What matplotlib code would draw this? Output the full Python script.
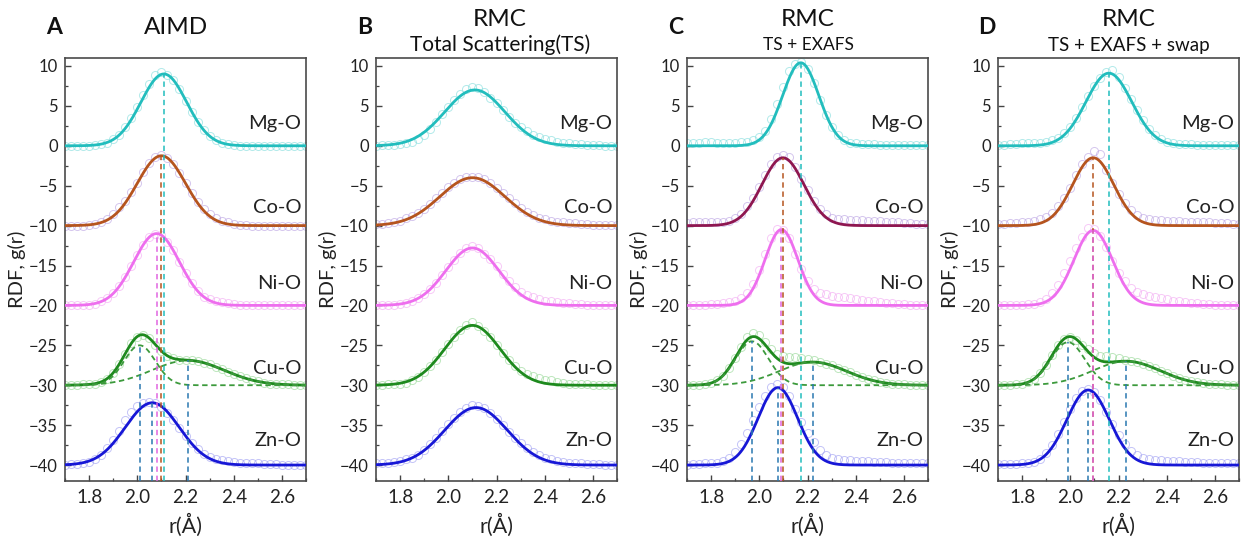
import numpy as np
import matplotlib.pyplot as plt
from matplotlib.ticker import MultipleLocator
from matplotlib.transforms import blended_transform_factory

plt.rcParams['font.family'] = ['Lato', 'DejaVu Sans']

# r grid (Å) of the sampled g(r) points
r_points = np.linspace(1.70, 2.70, 41)

pairs = ['Mg-O', 'Co-O', 'Ni-O', 'Cu-O', 'Zn-O']
offsets = [0, -10, -20, -30, -40]

# g(r) points above each baseline, one list per pair, per panel
gr_aimd = {
    'Mg-O': [0.0, 0.0, 0.0, 0.0, 0.0, 0.1, 0.2, 0.4, 0.8, 1.4, 2.3, 3.5, 4.9, 6.4, 7.8, 8.9, 9.3, 8.9, 8.2, 7.1,
             5.6, 4.2, 3.0, 2.0, 1.2, 0.7, 0.4, 0.2, 0.1, 0.0, 0.0, 0.0, 0.0, 0.0, 0.0, 0.0, 0.0, 0.0, 0.0, 0.0, 0.0],
    'Co-O': [0.0, 0.0, 0.0, 0.0, 0.1, 0.2, 0.4, 0.8, 1.5, 2.3, 3.1, 4.2, 5.4, 6.7, 7.8, 8.6, 8.8, 8.5, 7.7, 6.6,
             5.3, 4.1, 3.0, 2.1, 1.4, 0.9, 0.6, 0.4, 0.2, 0.1, 0.1, 0.0, 0.0, 0.0, 0.0, 0.0, 0.0, 0.0, 0.0, 0.0, 0.0],
    'Ni-O': [0.0, 0.0, 0.0, 0.0, 0.1, 0.2, 0.5, 0.9, 1.5, 2.4, 3.5, 4.9, 6.3, 7.6, 8.6, 9.0, 8.8, 8.0, 6.9, 5.5,
             4.1, 2.8, 1.8, 1.1, 0.8, 0.5, 0.4, 0.3, 0.2, 0.1, 0.0, 0.0, 0.0, 0.0, 0.0, 0.0, 0.0, 0.0, 0.0, 0.0, 0.0],
    'Cu-O': [0.0, 0.0, 0.0, 0.1, 0.1, 0.2, 0.4, 0.8, 1.5, 2.6, 3.9, 5.3, 6.1, 6.3, 5.9, 5.1, 4.3, 3.7, 3.4, 3.2,
             3.2, 3.1, 3.0, 2.8, 2.6, 2.3, 2.0, 1.7, 1.4, 1.1, 0.9, 0.7, 0.5, 0.3, 0.2, 0.2, 0.1, 0.1, 0.0, 0.0, 0.0],
    'Zn-O': [0.0, 0.1, 0.1, 0.2, 0.4, 0.8, 1.3, 2.1, 3.1, 4.3, 5.6, 6.7, 7.4, 7.8, 7.9, 7.8, 7.3, 6.5, 5.6, 4.6,
             3.6, 2.7, 2.0, 1.4, 1.0, 0.8, 0.6, 0.5, 0.4, 0.3, 0.3, 0.2, 0.2, 0.1, 0.1, 0.1, 0.0, 0.0, 0.0, 0.0, 0.0],
}
gr_ts = {
    'Mg-O': [0.0, 0.1, 0.1, 0.1, 0.2, 0.3, 0.5, 0.8, 1.3, 2.1, 3.0, 4.0, 4.9, 5.8, 6.5, 7.1, 7.4, 7.2, 6.7, 6.0,
             5.3, 4.5, 3.6, 2.9, 2.3, 1.8, 1.4, 1.1, 0.9, 0.7, 0.5, 0.4, 0.3, 0.2, 0.2, 0.1, 0.1, 0.1, 0.0, 0.0, 0.0],
    'Co-O': [0.2, 0.2, 0.3, 0.4, 0.6, 0.9, 1.2, 1.6, 2.1, 2.7, 3.4, 4.1, 4.8, 5.4, 5.9, 6.1, 6.1, 6.1, 5.8, 5.3,
             4.7, 4.1, 3.4, 2.8, 2.2, 1.7, 1.3, 1.0, 0.8, 0.6, 0.5, 0.4, 0.3, 0.3, 0.2, 0.2, 0.1, 0.1, 0.1, 0.1, 0.1],
    'Ni-O': [0.0, 0.0, 0.0, 0.1, 0.2, 0.3, 0.5, 0.9, 1.4, 2.0, 2.8, 3.8, 4.8, 5.7, 6.6, 7.2, 7.5, 7.2, 6.5, 5.8,
             4.9, 3.9, 3.0, 2.3, 1.7, 1.3, 1.0, 0.8, 0.6, 0.5, 0.4, 0.3, 0.3, 0.2, 0.2, 0.1, 0.1, 0.0, 0.0, 0.0, 0.0],
    'Cu-O': [0.0, 0.0, 0.1, 0.1, 0.2, 0.3, 0.6, 1.0, 1.6, 2.4, 3.2, 4.2, 5.2, 6.1, 6.9, 7.5, 7.9, 7.4, 6.8, 6.0,
             5.0, 4.0, 3.1, 2.4, 1.8, 1.4, 1.1, 0.9, 0.7, 0.6, 0.4, 0.3, 0.2, 0.1, 0.1, 0.1, 0.0, 0.0, 0.0, 0.0, 0.0],
    'Zn-O': [0.2, 0.2, 0.3, 0.4, 0.5, 0.7, 0.9, 1.3, 1.9, 2.6, 3.4, 4.3, 5.1, 5.9, 6.6, 7.2, 7.5, 7.4, 7.1, 6.5,
             5.8, 5.0, 4.2, 3.4, 2.7, 2.1, 1.6, 1.2, 0.9, 0.7, 0.5, 0.4, 0.3, 0.2, 0.2, 0.1, 0.1, 0.1, 0.0, 0.0, 0.0],
}
gr_exafs = {
    'Mg-O': [0.3, 0.4, 0.4, 0.5, 0.5, 0.4, 0.4, 0.4, 0.4, 0.5, 0.5, 0.7, 1.1, 1.9, 3.3, 5.2, 7.4, 9.4, 10.3, 10.5,
             9.6, 7.9, 5.8, 3.9, 2.3, 1.3, 0.7, 0.4, 0.3, 0.2, 0.2, 0.2, 0.1, 0.1, 0.1, 0.1, 0.1, 0.1, 0.1, 0.1, 0.1],
    'Co-O': [0.3, 0.4, 0.4, 0.4, 0.4, 0.5, 0.5, 0.6, 0.9, 1.5, 2.4, 3.5, 4.8, 6.3, 7.7, 8.6, 8.8, 8.6, 7.4, 5.9,
             4.4, 3.1, 2.1, 1.4, 1.0, 0.8, 0.8, 0.7, 0.7, 0.7, 0.6, 0.6, 0.6, 0.5, 0.5, 0.4, 0.3, 0.3, 0.2, 0.2, 0.2],
    'Ni-O': [0.1, 0.1, 0.1, 0.1, 0.2, 0.2, 0.3, 0.4, 0.6, 0.9, 1.5, 2.7, 4.4, 6.5, 8.4, 9.6, 9.5, 8.4, 6.5, 4.6,
             3.0, 2.1, 1.6, 1.4, 1.2, 1.1, 1.0, 0.9, 0.8, 0.7, 0.6, 0.5, 0.4, 0.3, 0.3, 0.2, 0.2, 0.1, 0.1, 0.1, 0.1],
    'Cu-O': [0.0, 0.0, 0.0, 0.1, 0.3, 0.6, 1.2, 2.1, 3.4, 4.8, 6.0, 6.6, 6.3, 5.4, 4.5, 3.9, 3.6, 3.5, 3.5, 3.4,
             3.3, 3.1, 2.9, 2.7, 2.5, 2.2, 1.9, 1.6, 1.3, 1.0, 0.8, 0.6, 0.4, 0.3, 0.2, 0.1, 0.1, 0.0, 0.0, 0.0, 0.0],
    'Zn-O': [0.0, 0.1, 0.1, 0.2, 0.2, 0.3, 0.5, 0.9, 1.6, 2.6, 4.0, 5.6, 7.3, 8.7, 9.8, 10.2, 9.8, 8.6, 7.0, 5.4,
             4.0, 2.9, 1.9, 1.2, 0.9, 0.7, 0.6, 0.6, 0.5, 0.5, 0.5, 0.4, 0.4, 0.4, 0.3, 0.3, 0.3, 0.2, 0.2, 0.2, 0.2],
}
gr_swap = {
    'Mg-O': [0.1, 0.1, 0.2, 0.2, 0.3, 0.3, 0.3, 0.4, 0.5, 0.7, 1.0, 1.6, 2.4, 3.5, 4.8, 6.2, 7.5, 8.5, 9.2, 9.5,
             8.6, 7.3, 5.9, 4.5, 3.2, 2.1, 1.3, 0.8, 0.5, 0.3, 0.2, 0.2, 0.2, 0.1, 0.1, 0.1, 0.1, 0.1, 0.1, 0.1, 0.1],
    'Co-O': [0.2, 0.2, 0.3, 0.3, 0.4, 0.5, 0.6, 0.8, 1.1, 1.6, 2.4, 3.4, 4.7, 6.3, 7.7, 8.6, 9.4, 9.0, 7.0, 5.4,
             4.0, 2.8, 1.9, 1.3, 1.0, 0.8, 0.7, 0.7, 0.6, 0.6, 0.6, 0.5, 0.5, 0.5, 0.4, 0.4, 0.3, 0.3, 0.3, 0.2, 0.2],
    'Ni-O': [0.0, 0.0, 0.1, 0.1, 0.1, 0.2, 0.2, 0.4, 0.8, 1.5, 2.6, 4.0, 5.6, 7.2, 8.6, 9.7, 9.6, 8.7, 7.3, 5.6,
             4.1, 3.0, 2.2, 1.7, 1.4, 1.2, 1.0, 0.9, 0.8, 0.6, 0.5, 0.4, 0.3, 0.3, 0.2, 0.2, 0.1, 0.1, 0.1, 0.1, 0.1],
    'Cu-O': [0.0, 0.0, 0.0, 0.1, 0.2, 0.4, 0.8, 1.5, 2.5, 3.8, 5.0, 5.8, 6.0, 5.7, 5.1, 4.5, 4.0, 3.7, 3.6, 3.5,
             3.4, 3.2, 3.0, 2.9, 2.7, 2.4, 2.1, 1.8, 1.5, 1.2, 0.9, 0.7, 0.5, 0.4, 0.3, 0.2, 0.1, 0.1, 0.0, 0.0, 0.0],
    'Zn-O': [0.1, 0.1, 0.1, 0.1, 0.2, 0.3, 0.4, 0.8, 1.5, 2.5, 3.9, 5.4, 7.0, 8.4, 9.3, 9.5, 9.2, 8.1, 6.7, 5.2,
             3.8, 2.6, 1.8, 1.2, 0.9, 0.7, 0.6, 0.6, 0.5, 0.5, 0.5, 0.4, 0.4, 0.4, 0.3, 0.3, 0.3, 0.2, 0.2, 0.2, 0.2],
}

# Gaussian fits: (centre r, height, sigma) for each component
fit_aimd = {
    'Mg-O': [(2.110, 9.0, 0.095)],
    'Co-O': [(2.100, 8.75, 0.100)],
    'Ni-O': [(2.080, 9.0, 0.095)],
    'Cu-O': [(2.010, 5.0, 0.065), (2.210, 3.1, 0.150)],
    'Zn-O': [(2.062, 7.8, 0.112)],
}
fit_ts = {
    'Mg-O': [(2.110, 7.0, 0.125)],
    'Co-O': [(2.100, 6.0, 0.135)],
    'Ni-O': [(2.100, 7.2, 0.110)],
    'Cu-O': [(2.100, 7.5, 0.115)],
    'Zn-O': [(2.115, 7.2, 0.130)],
}
fit_exafs = {
    'Mg-O': [(2.172, 10.4, 0.075)],
    'Co-O': [(2.098, 8.5, 0.087)],
    'Ni-O': [(2.092, 9.5, 0.068)],
    'Cu-O': [(1.970, 5.5, 0.068), (2.222, 2.9, 0.140)],
    'Zn-O': [(2.077, 9.7, 0.082)],
}
fit_swap = {
    'Mg-O': [(2.160, 9.1, 0.095)],
    'Co-O': [(2.095, 8.5, 0.085)],
    'Ni-O': [(2.095, 9.4, 0.080)],
    'Cu-O': [(1.990, 5.4, 0.070), (2.233, 3.0, 0.140)],
    'Zn-O': [(2.074, 9.4, 0.088)],
}

line_colors = ['#22BDBD', '#B5541E', '#EE6EEE', '#1E8A1E', '#1717D6']
co_color_exafs = '#8E1650'
circle_colors = ['#7FDCDC', '#B9A0E2', '#F2A6F2', '#92D792', '#9C9CF2']
center_colors = ['#22BDBD', '#B5541E', '#E066E0', '#2A78B0', '#2A78B0']
comp_color = '#3C9A3C'
label_dy = [2.8, 2.3, 2.7, 2.1, 3.1]

# letter, title, subtitle, subtitle size, title centre x (px), data, fits, show centres
panels = [
    ('A', 'AIMD', None, 0, 176, gr_aimd, fit_aimd, True),
    ('B', 'RMC', 'Total Scattering(TS)', 15, 500, gr_ts, fit_ts, False),
    ('C', 'RMC', 'TS + EXAFS', 12.5, 808, gr_exafs, fit_exafs, True),
    ('D', 'RMC', 'TS + EXAFS + swap', 13.5, 1129, gr_swap, fit_swap, True),
]

W, H = 1241, 537
ax_left = [65, 376, 687, 998]
ax_width = 241
ax_top, ax_bottom = 58, 481
YMIN, YMAX = -42, 11


def gauss(r, c, h, s):
    return h * np.exp(-(r - c) ** 2 / (2 * s ** 2))


r_fine = np.linspace(1.70, 2.70, 500)

fig = plt.figure(figsize=(W / 100, H / 100), dpi=100)

for p, (letter, title, subtitle, sub_size, tx, gr, fits, centers) in enumerate(panels):
    ax = fig.add_axes([ax_left[p] / W, 1 - ax_bottom / H, ax_width / W, (ax_bottom - ax_top) / H])
    trans = blended_transform_factory(ax.transAxes, ax.transData)

    for k, pair in enumerate(pairs):
        base = offsets[k]
        lc = line_colors[k]
        if pair == 'Co-O' and letter == 'C':
            lc = co_color_exafs

        ax.plot(r_points, np.array(gr[pair]) + base, 'o', mfc='none', mec=circle_colors[k],
                ms=5.8, mew=0.7, alpha=0.6, zorder=2)

        comps = fits[pair]
        total = sum(gauss(r_fine, *c) for c in comps)
        ax.plot(r_fine, total + base, color=lc, lw=2.0, zorder=3)

        if len(comps) > 1:
            for c in comps:
                ax.plot(r_fine, gauss(r_fine, *c) + base, color=comp_color, lw=1.3,
                        dashes=(3, 2), zorder=3)

        if centers:
            for c in comps:
                ax.plot([c[0], c[0]], [YMIN, base + c[1]], color=center_colors[k], lw=1.1,
                        dashes=(3.5, 2.5), zorder=4)

        ax.text(0.98, base + label_dy[k], pair, transform=trans, ha='right', va='center',
                fontsize=14.5, color='#222222')

    ax.set_xlim(1.7, 2.7)
    ax.set_ylim(YMIN, YMAX)
    ax.xaxis.set_major_locator(MultipleLocator(0.2))
    ax.xaxis.set_minor_locator(MultipleLocator(0.1))
    ax.yaxis.set_major_locator(MultipleLocator(5))
    ax.yaxis.set_minor_locator(MultipleLocator(2.5))
    ax.xaxis.set_major_formatter(plt.FuncFormatter(lambda v, _: '{:.1f}'.format(v)))
    ax.tick_params(which='both', direction='in', top=False, right=False, color='#444444',
                   labelcolor='#222222')
    ax.tick_params(axis='x', which='major', labelsize=13.5, pad=6)
    ax.tick_params(axis='y', which='major', labelsize=12, pad=5)
    ax.tick_params(which='major', length=4.5, width=1.0)
    ax.tick_params(which='minor', length=2.5, width=0.9)
    for sp in ax.spines.values():
        sp.set_color('#4A4A4A')
        sp.set_linewidth(1.2)

    ax.set_xlabel('r(Å)', fontsize=15.5, labelpad=5, color='#222222')
    ax.set_ylabel('RDF, g(r)', fontsize=14.5, labelpad=2, color='#222222')

    fig.text((ax_left[p] - 11) / W, 1 - 27 / H, letter, fontsize=16.5, fontweight='bold',
             ha='center', va='center', color='#111111')
    if subtitle is None:
        fig.text(tx / W, 1 - 28 / H, title, fontsize=17.5, ha='center', va='center', color='#111111')
    else:
        fig.text(tx / W, 1 - 20 / H, title, fontsize=17.5, ha='center', va='center', color='#111111')
        fig.text(tx / W, 1 - 45 / H, subtitle, fontsize=sub_size, ha='center', va='center', color='#111111')

fig.savefig('out.png', dpi=100)
